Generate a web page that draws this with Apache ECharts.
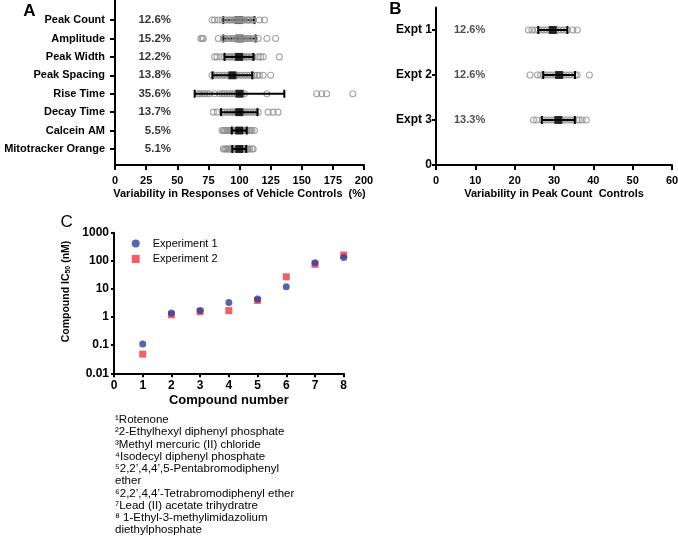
<!DOCTYPE html>
<html><head><meta charset="utf-8">
<script src="https://cdn.jsdelivr.net/npm/echarts@6/dist/echarts.min.js"></script>
<style>html,body{margin:0;padding:0;background:#fff}#c{width:678px;height:536px}</style>
</head><body><div id="c"></div>
<script>
// ---------- Panel A ----------
const rowsA = ['Peak Count','Amplitude','Peak Width','Peak Spacing','Rise Time','Decay Time','Calcein AM','Mitotracker Orange'];
const cvA = ['12.6%','15.2%','12.2%','13.8%','35.6%','13.7%','5.5%','5.1%'];
const meanA = [99.5, 100, 99.6, 94.3, 100, 99.8, 99.8, 99.8];
const errA = [12.5, 13, 11.6, 16, 36, 14.6, 6, 5.6];
const ptsPeakCount = [78, 80, 83, 86, 88, 90, 92, 93, 95, 96, 97, 98, 99, 100, 101, 102, 103, 104, 106, 107, 108, 110, 111, 116, 120];
const ptsAmplitude = [69, 70, 71, 83, 87, 88, 90, 92, 94, 95, 97, 98, 99, 100, 101, 102, 103, 104, 105, 107, 108, 110, 112, 115, 122, 129];
const ptsPeakWidth = [80, 82, 85, 88, 90, 92, 93, 95, 96, 98, 99, 100, 101, 102, 103, 105, 106, 108, 110, 111, 115, 117, 119, 132];
const ptsPeakSpacing = [78, 80, 82, 84, 86, 88, 90, 92, 93, 94, 95, 96, 97, 98, 100, 102, 104, 106, 108, 110, 112, 114, 116, 119, 125];
const ptsRiseTime = [67, 68, 70, 72, 74, 76, 80, 84, 86, 88, 90, 92, 94, 96, 98, 100, 102, 104, 122, 162, 166, 170, 191];
const ptsDecayTime = [79, 82, 86, 88, 90, 92, 94, 95, 97, 98, 99, 100, 101, 102, 104, 105, 107, 109, 111, 113, 115, 123, 127, 131];
const ptsCalcein = [86, 87, 88, 89, 90, 91, 92, 93, 94, 95, 96, 97, 98, 99, 100, 100, 101, 102, 103, 104, 105, 106, 107, 108, 109, 110, 112];
const ptsMitotracker = [87, 88, 89, 90, 91, 92, 93, 94, 95, 96, 97, 98, 99, 100, 101, 102, 103, 104, 105, 106, 107, 108, 110, 111];
const ptsA = [ptsPeakCount, ptsAmplitude, ptsPeakWidth, ptsPeakSpacing, ptsRiseTime, ptsDecayTime, ptsCalcein, ptsMitotracker];
const ticksA = [0, 25, 50, 75, 100, 125, 150, 175, 200];

// ---------- Panel B ----------
const rowsB = ['Expt 1','Expt 2','Expt 3'];
const cvB = ['12.6%','12.6%','13.3%'];
const meanB = [29.7, 31.3, 31.1];
const errB = [3.7, 4.05, 4.2];
const ptsExpt1 = [23.5, 24.4, 25.2, 26, 26.8, 27.5, 28.2, 29, 29.7, 30.4, 31.1, 31.8, 32.5, 33.3, 34.8, 35.9];
const ptsExpt2 = [23.9, 25.8, 26.6, 27.4, 28.2, 29, 29.8, 30.6, 31.4, 32.2, 33, 33.8, 34.6, 35.4, 35.9, 39];
const ptsExpt3 = [24.8, 25.6, 27, 27.8, 28.6, 29.4, 30.2, 31, 31.8, 32.6, 33.4, 34.2, 35, 35.8, 36.4, 37.2, 38.2];
const ptsB = [ptsExpt1, ptsExpt2, ptsExpt3];

// ---------- Panel C ----------
const compounds = [1, 2, 3, 4, 5, 6, 7, 8];
const ic50Exp1 = [0.11, 1.4, 1.7, 3.3, 4.4, 12, 85, 130];
const ic50Exp2 = [0.048, 1.2, 1.55, 1.7, 3.9, 27, 75, 160];
const footnotes = [
  '\u00b9Rotenone',
  '\u00b22-Ethylhexyl diphenyl phosphate',
  '\u00b3Methyl mercuric (II) chloride',
  '\u2074Isodecyl diphenyl phosphate',
  '\u20752,2\u2019,4,4\u2019,5-Pentabromodiphenyl',
  'ether',
  '\u20762,2\u2019,4,4\u2019-Tetrabromodiphenyl ether',
  '\u2077Lead (II) acetate trihydratre',
  '\u2078 1-Ethyl-3-methylimidazolium',
  'diethylphosphate'
];

const FONT = 'Liberation Sans, Arial, sans-serif';
const GREY = '#8f8f8f';
const chart = echarts.init(document.getElementById('c'));

function errRender(params, api) {
  const m = api.value(0), h = api.value(1), r = api.value(2);
  const pL = api.coord([m - h, r]), pR = api.coord([m + h, r]);
  const cap = 4, st = {stroke: '#000', lineWidth: 2};
  return {type: 'group', children: [
    {type: 'line', shape: {x1: pL[0], y1: pL[1], x2: pR[0], y2: pR[1]}, style: st},
    {type: 'line', shape: {x1: pL[0], y1: pL[1] - cap, x2: pL[0], y2: pL[1] + cap}, style: st},
    {type: 'line', shape: {x1: pR[0], y1: pR[1] - cap, x2: pR[0], y2: pR[1] + cap}, style: st}
  ]};
}

const rowY = i => 8 - i;
const rowYB = i => 3 - i;
const ptStyle = {color: 'rgba(255,255,255,0)', borderColor: GREY, borderWidth: 1.1};
const axisLine = {show: true, lineStyle: {color: '#000', width: 2}};
const axisTick = {show: true, length: 5, lineStyle: {color: '#000', width: 2}};
const lab = (size, extra) => Object.assign({color: '#000', fontFamily: FONT, fontWeight: 'bold', fontSize: size}, extra || {});

const frontRows = [0, 1];
const backData = [], frontData = [];
ptsA.forEach((arr, i) => arr.forEach(v => (frontRows.includes(i) ? frontData : backData).push([v, rowY(i)])));

const option = {
  animation: false,
  backgroundColor: '#fff',
  grid: [
    {left: 115, top: 0, width: 249, height: 165, outerBoundsMode: 'none', containLabel: false},
    {left: 436, top: 7.5, width: 236, height: 157.5, outerBoundsMode: 'none', containLabel: false},
    {left: 114, top: 232.7, width: 229.7, height: 140.6, outerBoundsMode: 'none', containLabel: false}
  ],
  xAxis: [
    {gridIndex: 0, type: 'value', min: 0, max: 200, interval: 25, axisLine, axisTick,
     splitLine: {show: false}, axisLabel: lab(11, {margin: 10}),
     name: 'Variability in Responses of Vehicle Controls  (%)', nameLocation: 'middle', nameGap: 23,
     nameTextStyle: lab(11)},
    {gridIndex: 1, type: 'value', min: 0, max: 60, interval: 10, axisLine, axisTick,
     splitLine: {show: false}, axisLabel: lab(11, {margin: 10}),
     name: 'Variability in Peak Count  Controls', nameLocation: 'middle', nameGap: 23,
     nameTextStyle: lab(11)},
    {gridIndex: 2, type: 'value', min: 0, max: 8, interval: 1, axisLine,
     axisTick: {show: true, length: 4, lineStyle: {color: '#000', width: 2}},
     splitLine: {show: false}, axisLabel: lab(12, {margin: 6}),
     name: 'Compound number', nameLocation: 'middle', nameGap: 21, nameTextStyle: lab(13)}
  ],
  yAxis: [
    {gridIndex: 0, type: 'value', min: 0.13, max: 9.09, axisLine, splitLine: {show: false},
     axisTick: Object.assign({}, axisTick, {customValues: [1, 2, 3, 4, 5, 6, 7, 8]}),
     axisLabel: lab(11, {margin: 10, customValues: [1, 2, 3, 4, 5, 6, 7, 8],
       formatter: v => rowsA[8 - Math.round(v)]})},
    {gridIndex: 1, type: 'value', min: 0, max: 3.5, axisLine, splitLine: {show: false},
     axisTick: Object.assign({}, axisTick, {length: 4, customValues: [0, 1, 2, 3]}),
     axisLabel: lab(12, {margin: 4, customValues: [0, 1, 2, 3],
       formatter: v => Math.round(v) === 0 ? '0' : rowsB[3 - Math.round(v)]})},
    {gridIndex: 2, type: 'log', logBase: 10, min: 0.01, max: 1000, axisLine, splitLine: {show: false},
     axisTick: {show: true, length: 3, lineStyle: {color: '#000', width: 2}},
     axisLabel: lab(12, {margin: 5, formatter: v => String(+(+v).toPrecision(3))})}
  ],
  legend: {
    left: 131.7, top: 238, padding: 0, orient: 'vertical', itemWidth: 8, itemHeight: 8, itemGap: 4.5,
    data: ['Experiment 1', 'Experiment 2'],
    textStyle: {fontFamily: FONT, fontSize: 11, color: '#000', padding: [0, 0, 0, 8]}
  },
  series: [
    {type: 'scatter', xAxisIndex: 0, yAxisIndex: 0, z: 2, silent: true, symbol: 'circle', symbolSize: 6,
     itemStyle: ptStyle, data: backData},
    {type: 'custom', xAxisIndex: 0, yAxisIndex: 0, z: 3, silent: true, renderItem: errRender,
     encode: {x: 0, y: 2}, data: meanA.map((m, i) => [m, errA[i], rowY(i)])},
    {type: 'scatter', xAxisIndex: 0, yAxisIndex: 0, z: 4, silent: true, symbol: 'rect', symbolSize: 8,
     itemStyle: {color: '#000'}, data: meanA.map((m, i) => [m, rowY(i)])},
    {type: 'scatter', xAxisIndex: 0, yAxisIndex: 0, z: 5, silent: true, symbol: 'circle', symbolSize: 6,
     itemStyle: ptStyle, data: frontData},
    {type: 'scatter', xAxisIndex: 0, yAxisIndex: 0, z: 5, silent: true, symbolSize: 0,
     label: {show: true, position: 'left', distance: 0, formatter: '{b}', color: '#000', fontFamily: FONT, fontWeight: 'bold', fontSize: 11.5},
     data: cvA.map((t, i) => ({name: t, value: [45, rowY(i)]}))},

    {type: 'scatter', xAxisIndex: 1, yAxisIndex: 1, z: 2, silent: true, symbol: 'circle', symbolSize: 6,
     itemStyle: ptStyle, data: ptsB.flatMap((arr, i) => arr.map(v => [v, rowYB(i)]))},
    {type: 'custom', xAxisIndex: 1, yAxisIndex: 1, z: 3, silent: true, renderItem: errRender,
     encode: {x: 0, y: 2}, data: meanB.map((m, i) => [m, errB[i], rowYB(i)])},
    {type: 'scatter', xAxisIndex: 1, yAxisIndex: 1, z: 4, silent: true, symbol: 'rect', symbolSize: 8,
     itemStyle: {color: '#000'}, data: meanB.map((m, i) => [m, rowYB(i)])},
    {type: 'scatter', xAxisIndex: 1, yAxisIndex: 1, z: 5, silent: true, symbolSize: 0,
     label: {show: true, position: 'left', distance: 0, formatter: '{b}', color: '#222', fontFamily: FONT, fontWeight: 'bold', fontSize: 11},
     data: cvB.map((t, i) => ({name: t, value: [12.5, rowYB(i)]}))},

    {name: 'Experiment 1', type: 'scatter', xAxisIndex: 2, yAxisIndex: 2, z: 3, symbol: 'circle', symbolSize: 7,
     itemStyle: {color: '#2e3d98'}, data: compounds.map((c, i) => [c, ic50Exp1[i]])},
    {name: 'Experiment 2', type: 'scatter', xAxisIndex: 2, yAxisIndex: 2, z: 2, symbol: 'rect', symbolSize: 7,
     itemStyle: {color: '#ec3a41'}, data: compounds.map((c, i) => [c, ic50Exp2[i]])}
  ],
  graphic: [
    {type: 'text', x: 29.5, y: 11, style: {text: 'A', font: 'bold 17px ' + FONT, fill: '#000', textAlign: 'center', textVerticalAlign: 'middle'}},
    {type: 'text', x: 395.5, y: 9, style: {text: 'B', font: 'bold 17px ' + FONT, fill: '#000', textAlign: 'center', textVerticalAlign: 'middle'}},
    {type: 'text', x: 66.7, y: 222.5, style: {text: 'C', font: '17px ' + FONT, fill: '#000', textAlign: 'center', textVerticalAlign: 'middle'}},
    {type: 'text', x: 66, y: 291.5, rotation: Math.PI / 2,
     style: {text: 'Compound IC{s|50} (nM)', font: 'bold 10.5px ' + FONT, fill: '#000', textAlign: 'center', textVerticalAlign: 'middle',
       rich: {s: {fontSize: 7, fontWeight: 'bold', fontFamily: FONT, verticalAlign: 'bottom', padding: [4, 0, 0, 0]}}}}
  ].concat(footnotes.map((t, i) => ({
    type: 'text', x: 115, y: 420 + i * 12.25,
    style: {text: t, font: '11.5px ' + FONT, fill: '#000', textAlign: 'left', textVerticalAlign: 'middle'}
  })))
};
chart.setOption(option);
</script>
</body></html>
